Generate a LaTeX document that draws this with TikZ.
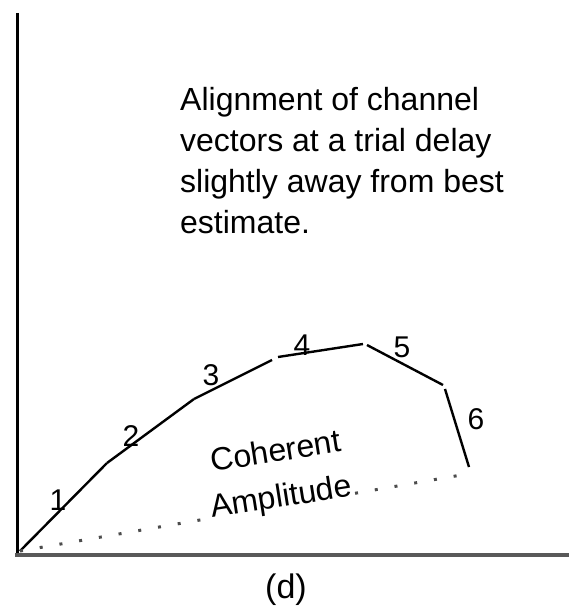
\documentclass[tikz,border=0pt]{standalone}
\usepackage{fontspec}
\setmainfont{Liberation Sans}
\begin{document}
\begin{tikzpicture}[x=1pt,y=-1pt,
  vec/.style={line width=2.4pt,black},
  axisv/.style={line width=3pt,black},
  axish/.style={line width=4pt,black!65},
  amp/.style={line width=3pt,black!70,dash pattern=on 3pt off 17pt},
  numlab/.style={inner sep=0pt,font=\fontsize{30}{36}\selectfont},
  txt/.style={inner sep=0pt,font=\fontsize{32}{41}\selectfont}]
\useasboundingbox (0,0) rectangle (569,610);
% axes
\coordinate (top) at (17,13);
\coordinate (org) at (17,554.5);
\coordinate (xend) at (569,554.5);
\draw[axisv] (top) -- (17,556);
\draw[axish] (15,554.5) -- (xend);
% vector chain
\coordinate (p0) at (20,551);
\coordinate (p1) at (107,463);
\coordinate (p2) at (194,399);
\coordinate (p3a) at (272,360);
\coordinate (p3b) at (278,357);
\coordinate (p4a) at (363,344);
\coordinate (p4b) at (367,345);
\coordinate (p5a) at (443,385);
\coordinate (p5b) at (445,389);
\coordinate (p6) at (469,467);
\coordinate (aend) at (467,474);
\draw[vec] (p0) -- (p1);
\draw[vec] (p1) -- (p2);
\draw[vec] (p2) -- (p3a);
\draw[vec] (p3b) -- (p4a);
\draw[vec] (p4b) -- (p5a);
\draw[vec] (p5b) -- (p6);
\draw[amp] (p0) -- (aend);
% labels
\node[numlab] (n1) at (58,500) {1};
\node[numlab] (n2) at (131,436) {2};
\node[numlab] (n3) at (211,375) {3};
\node[numlab] (n4) at (302,345) {4};
\node[numlab] (n5) at (402,347) {5};
\node[numlab] (n6) at (476,419) {6};
\node[txt,anchor=base west,rotate=9] (coh) at (212,472) {Coherent};
\node[txt,anchor=base west,rotate=9,fill=white] (ampl) at (212,518) {Amplitude};
\node[txt,anchor=north west,align=left] (desc) at (180,87)
  {Alignment of channel\\vectors at a trial delay\\slightly away from best\\estimate.};
\node[inner sep=0pt,font=\fontsize{34}{40}\selectfont] (cap) at (286,590) {(d)};
\end{tikzpicture}
\end{document}
